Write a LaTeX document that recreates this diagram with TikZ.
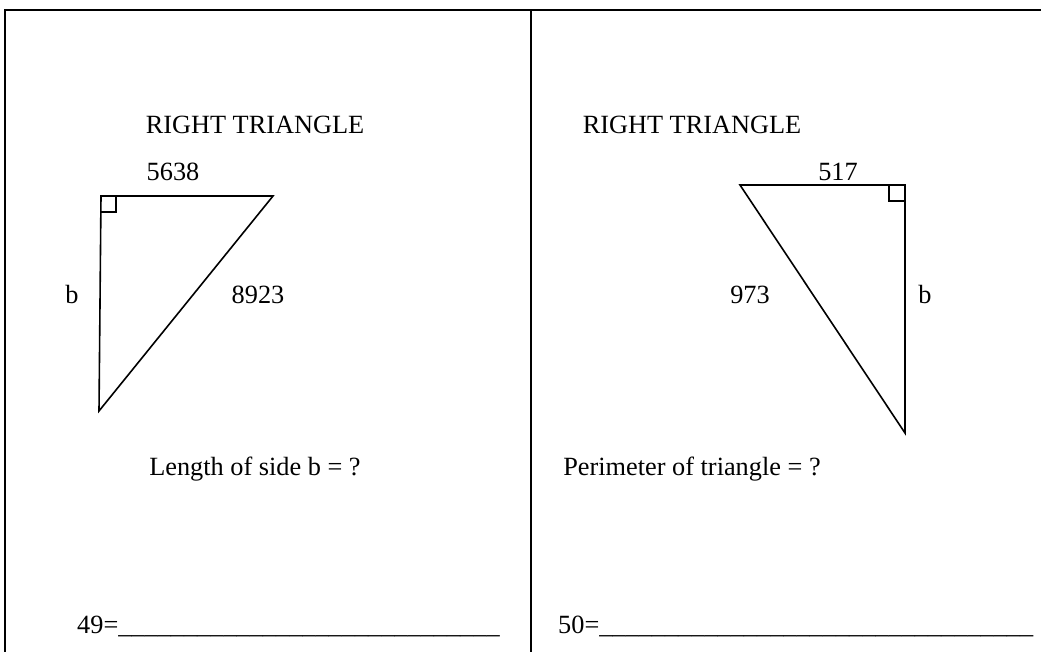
\documentclass[tikz,border=0pt]{standalone}
\usepackage{fontspec}
\setmainfont{Liberation Serif}
\begin{document}
\begin{tikzpicture}[x=1pt,y=-1pt,
  edge/.style={line width=1.6pt,line cap=round,line join=miter},
  frame/.style={line width=1.8pt},
  lbl/.style={anchor=base,inner sep=0pt,font=\fontsize{26.3}{30}\selectfont},
  lbll/.style={anchor=base west,inner sep=0pt,font=\fontsize{26.3}{30}\selectfont}]
\useasboundingbox (0,0) rectangle (1041,651);
% frame
\draw[frame] (5,660) -- (5,10) -- (1050,10);
\draw[frame] (531,10) -- (531,660);
% left panel
\node[lbl] (t1) at (255,133) {RIGHT TRIANGLE};
\coordinate (A) at (101,196);
\coordinate (B) at (273,196);
\coordinate (C) at (99,411);
\draw[edge] (A) -- (B) -- (C) -- cycle;
\draw[line width=1.2pt] (101,212) -- (116,212) -- (116,196);
\node[lbl] (s1) at (173,180) {5638};
\node[lbl] (h1) at (258,303) {8923};
\node[lbl] (b1) at (72,303) {b};
\node[lbl] (q1) at (255,475) {Length of side b = ?};
\node[lbll] (a1) at (77,633) {49=\_\_\_\_\_\_\_\_\_\_\_\_\_\_\_\_\_\_\_\_\_\_\_\_\_\_\_\_\_};
% right panel
\node[lbl] (t2) at (692,133) {RIGHT TRIANGLE};
\coordinate (D) at (740,185);
\coordinate (E) at (905,185);
\coordinate (F) at (905,433);
\draw[edge] (D) -- (E) -- (F) -- cycle;
\draw[line width=1.2pt] (889,185) -- (889,201) -- (905,201);
\node[lbl] (s2) at (838,180) {517};
\node[lbl] (h2) at (750,303) {973};
\node[lbl] (b2) at (925,303) {b};
\node[lbl] (q2) at (692,475) {Perimeter of triangle = ?};
\node[lbll] (a2) at (558,633) {50=\_\_\_\_\_\_\_\_\_\_\_\_\_\_\_\_\_\_\_\_\_\_\_\_\_\_\_\_\_\_\_\_\_};
\end{tikzpicture}
\end{document}
